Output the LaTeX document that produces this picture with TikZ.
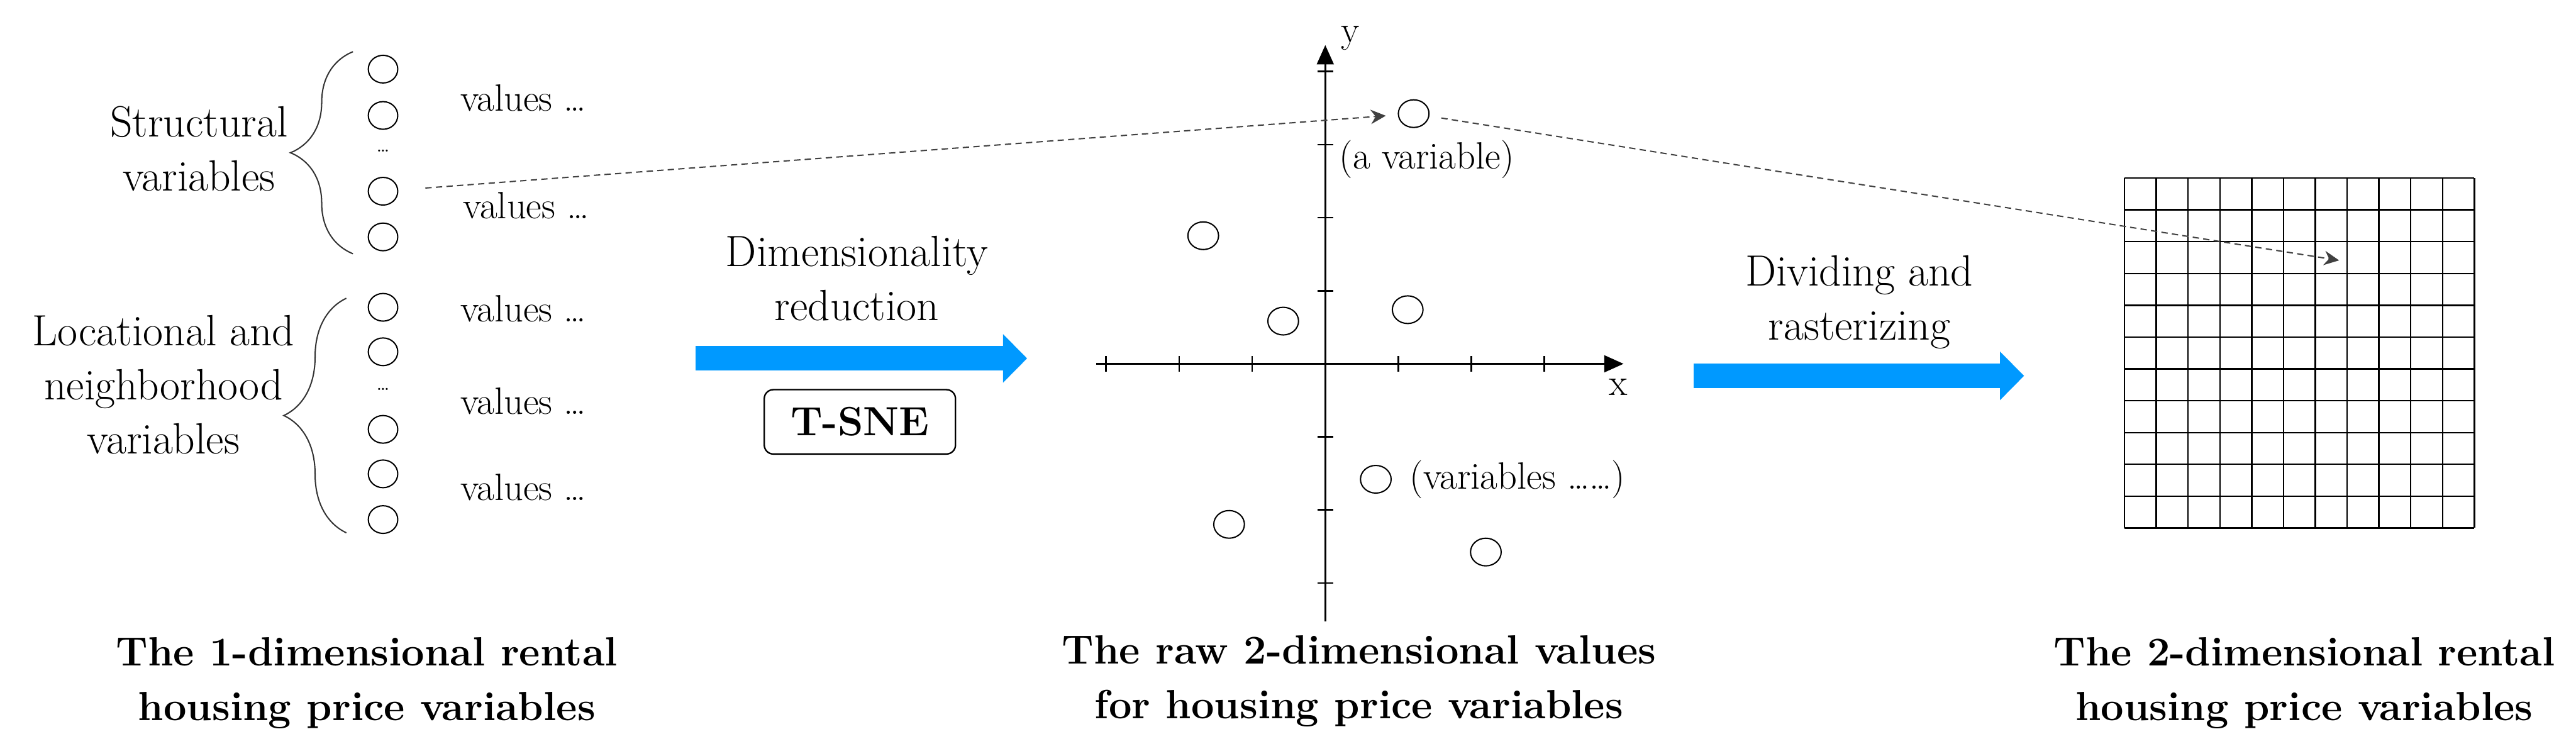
\documentclass[tikz,border=0pt]{standalone}
\usepackage{fontspec}
\usetikzlibrary{arrows.meta,decorations.pathreplacing,shapes.geometric}

\definecolor{flowblue}{RGB}{0,153,255}

\tikzset{
    varcirc/.style={draw, ellipse, minimum width=0.49cm, minimum height=0.46cm, inner sep=0pt, line width=0.6pt},
    ptcirc/.style={varcirc, minimum width=0.51cm},
    headtext/.style={font=\fontsize{20.7}{25.6}\selectfont, align=center, anchor=base},
    valtext/.style={font=\fontsize{18}{22}\selectfont, anchor=base west, inner sep=0pt},
    captext/.style={font=\fontsize{19.3}{25.8}\selectfont\bfseries, align=center, anchor=base},
    bigarrow/.style={draw=flowblue, line width=0.41cm, -{Triangle[length=0.4cm, width=0.81cm, line width=0pt]}},
    linkarrow/.style={draw=black!75, line width=0.6pt, dash pattern=on 3pt off 2pt, -{Stealth[length=0.25cm, width=0.24cm]}},
    bracestyle/.style={draw=black!80, line width=0.6pt, decorate, decoration={brace, amplitude=1.04cm}},
}

\begin{document}
\begin{tikzpicture}
    \useasboundingbox (0,0) rectangle (42.84,-12.57);

    % --- LEFT PANEL: 1-D VARIABLES ---
    \begin{scope}
        % Structural group
        \foreach \y [count=\i] in {-1.15,-1.92,-3.18,-3.94}
            \node[varcirc] (s\i) at (6.37,\y) {};
        \node[font=\fontsize{9}{9}\selectfont, anchor=base, inner sep=0pt] (sdots) at (6.37,-2.53) {\ldots};
        \draw[bracestyle] (5.87,-4.22) -- (5.87,-0.86);
        \node[headtext] (structlab) at (3.31,-3.17) {Structural\\variables};

        % Locational group
        \foreach \y [count=\i] in {-5.11,-5.85,-7.14,-7.88,-8.64}
            \node[varcirc] (l\i) at (6.37,\y) {};
        \node[font=\fontsize{9}{9}\selectfont, anchor=base, inner sep=0pt] (ldots) at (6.37,-6.49) {\ldots};
        \draw[bracestyle] (5.76,-8.86) -- (5.76,-4.96);
        \node[headtext] (loclab) at (2.72,-7.55) {Locational and\\neighborhood\\variables};

        % values
        \node[valtext] (v1) at (7.65,-1.85) {values \ldots};
        \node[valtext] (v2) at (7.70,-3.63) {values \ldots};
        \node[valtext] (v3) at (7.65,-5.35) {values \ldots};
        \node[valtext] (v4) at (7.65,-6.89) {values \ldots};
        \node[valtext] (v5) at (7.65,-8.32) {values \ldots};

        \node[captext] (cap1) at (6.10,-11.98) {The 1-dimensional rental\\housing price variables};
    \end{scope}

    % --- ARROW 1 ---
    \coordinate (r1s) at (11.57,-5.96);
    \coordinate (r1e) at (17.08,-5.96);
    \draw[bigarrow] (r1s) -- (r1e);
    \node[headtext] (dimlab) at (14.25,-5.33) {Dimensionality\\reduction};
    \node[draw, line width=0.7pt, rounded corners=0.15cm, minimum width=3.18cm, minimum height=1.07cm,
          font=\fontsize{19.3}{22}\selectfont\bfseries] (tsne) at (14.30,-7.015) {T-SNE};

    % --- MIDDLE PANEL: RAW 2-D VALUES ---
    \begin{scope}[shift={(22.04,-6.05)}]
        \coordinate (xl) at (-3.81,0);
        \coordinate (xr) at (4.96,0);
        \coordinate (yb) at (0,-4.28);
        \coordinate (yt) at (0,5.30);
        \draw[line width=0.8pt, -{Triangle[length=0.32cm, width=0.28cm]}] (xl) -- (xr);
        \draw[line width=0.8pt, -{Triangle[length=0.32cm, width=0.28cm]}] (yb) -- (yt);
        \foreach \k in {-3,-2,-1,1,2,3}
            \draw[line width=0.8pt] (\k*1.215,-0.13) -- (\k*1.215,0.13);
        \foreach \k in {-3,-2,-1,1,2,3,4}
            \draw[line width=0.8pt] (-0.13,\k*1.215) -- (0.13,\k*1.215);
        \node[font=\fontsize{18}{22}\selectfont] (xlab) at (4.87,-0.39) {x};
        \node[font=\fontsize{18}{22}\selectfont] (ylab) at (0.42,5.42) {y};

        % Points
        \node[ptcirc] (pa) at (1.47,4.16) {};
        \node[ptcirc] (p2) at (-2.03,2.13) {};
        \node[ptcirc] (p3) at (-0.70,0.71) {};
        \node[ptcirc] (p4) at (1.37,0.90) {};
        \node[ptcirc] (p5) at (0.84,-1.92) {};
        \node[ptcirc] (p6) at (-1.60,-2.67) {};
        \node[ptcirc] (p7) at (2.67,-3.13) {};
        \node[valtext] (palab) at (0.23,3.24) {(a variable)};
        \node[valtext] (p5lab) at (1.40,-2.08) {(variables ……)};

        \node[captext] (cap2) at (0.56,-5.90) {The raw 2-dimensional values\\for housing price variables};
    \end{scope}

    % --- ARROW 2 ---
    \coordinate (r2s) at (28.17,-6.25);
    \coordinate (r2e) at (33.66,-6.25);
    \draw[bigarrow] (r2s) -- (r2e);
    \node[headtext] (divlab) at (30.92,-5.65) {Dividing and\\rasterizing};

    % --- RIGHT PANEL: 2-D RASTER ---
    \begin{scope}[shift={(35.33,-8.78)}]
        \draw[line width=0.7pt, step=0.529] (0,0) grid (5.82,5.82);
        \coordinate (cell) at (3.57,4.45);
    \end{scope}
    \node[captext] (cap3) at (38.32,-11.98) {The 2-dimensional rental\\housing price variables};

    % Links
    \draw[linkarrow, shorten <=0.45cm, shorten >=0.2cm] (s3) -- (pa);
    \draw[linkarrow, shorten <=0.2cm] (pa) -- (cell);
\end{tikzpicture}
\end{document}
